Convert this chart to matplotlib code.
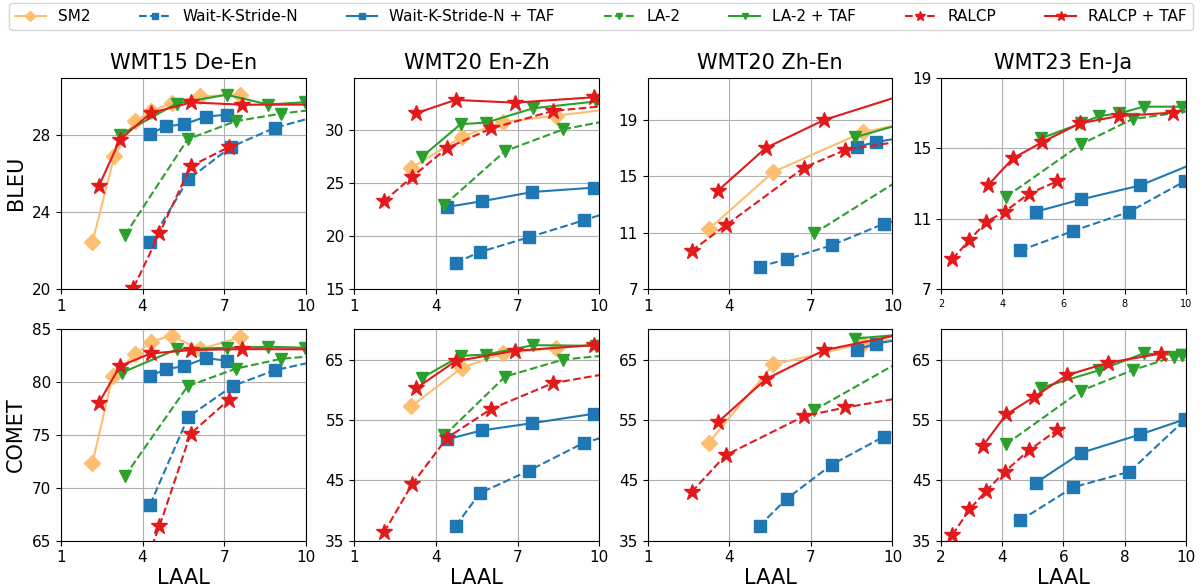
import matplotlib
matplotlib.use('Agg')
import matplotlib.pyplot as plt

methods = ['SM2', 'Wait-K-Stride-N', 'Wait-K-Stride-N + TAF', 'LA-2', 'LA-2 + TAF', 'RALCP', 'RALCP + TAF']
titles = ['WMT15 De-En', 'WMT20 En-Zh', 'WMT20 Zh-En', 'WMT23 En-Ja']

# (laal, score) per method; points past 10 / below the floor only continue the line to the frame
deen_bleu = {
    'SM2': ([2.16, 2.96, 3.72, 4.33, 5.07, 6.11, 7.58], [22.46, 26.9, 28.74, 29.25, 29.68, 30.03, 30.1]),
    'Wait-K-Stride-N': ([4.28, 5.68, 7.25, 8.88, 11.0], [22.42, 25.7, 27.39, 28.4, 29.21]),
    'Wait-K-Stride-N + TAF': ([4.28, 4.86, 5.53, 6.33, 7.09], [28.07, 28.47, 28.57, 28.97, 29.07]),
    'LA-2': ([3.35, 5.66, 7.42, 9.11, 11.0], [22.8, 27.79, 28.73, 29.13, 29.45]),
    'LA-2 + TAF': ([3.19, 5.25, 7.09, 8.62, 9.97], [28.03, 29.65, 30.11, 29.6, 29.72]),
    'RALCP': ([3.0, 3.66, 4.62, 5.77, 7.18], [18.0, 20.03, 22.89, 26.39, 27.39]),
    'RALCP + TAF': ([2.4, 3.17, 4.30, 5.80, 7.67, 11.0], [25.37, 27.77, 29.16, 29.71, 29.59, 29.6]),
}
enzh_bleu = {
    'SM2': ([3.10, 4.97, 6.46, 8.41, 11.0], [26.48, 29.42, 30.79, 31.4, 32.2]),
    'Wait-K-Stride-N': ([4.73, 5.62, 7.41, 9.44, 11.0], [17.49, 18.5, 19.89, 21.5, 22.8]),
    'Wait-K-Stride-N + TAF': ([4.40, 5.68, 7.55, 9.80], [22.76, 23.3, 24.18, 24.59]),
    'LA-2': ([4.31, 6.55, 8.69, 11.0], [22.95, 28.06, 30.11, 31.27]),
    'LA-2 + TAF': ([3.49, 4.91, 5.84, 7.58, 9.9], [27.52, 30.6, 30.74, 32.1, 32.75]),
    'RALCP': ([2.09, 3.12, 4.41, 6.04, 8.30, 11.0], [23.3, 25.6, 28.34, 30.2, 31.85, 32.5]),
    'RALCP + TAF': ([3.26, 4.72, 6.89, 9.80], [31.62, 32.89, 32.63, 33.14]),
}
zhen_bleu = {
    'SM2': ([3.24, 5.62, 8.91, 11.0], [11.24, 15.31, 18.12, 18.98]),
    'Wait-K-Stride-N': ([5.11, 6.11, 7.76, 9.67, 11.0], [8.59, 9.11, 10.1, 11.62, 12.26]),
    'Wait-K-Stride-N + TAF': ([8.71, 9.40, 11.0], [17.1, 17.43, 17.96]),
    'LA-2': ([7.12, 11.0], [10.95, 15.64]),
    'LA-2 + TAF': ([8.63, 11.0], [17.77, 19.08]),
    'RALCP': ([2.61, 3.87, 6.75, 8.27, 11.0], [9.70, 11.52, 15.62, 16.87, 17.69]),
    'RALCP + TAF': ([3.57, 5.34, 7.49, 11.0], [13.96, 17.01, 19.0, 21.14]),
}
enja_bleu = {
    'Wait-K-Stride-N': ([4.59, 6.31, 8.16, 9.96], [9.19, 10.29, 11.39, 13.11]),
    'Wait-K-Stride-N + TAF': ([5.10, 6.59, 8.51, 11.0], [11.39, 12.09, 12.88, 14.65]),
    'LA-2': ([4.13, 6.57, 8.26, 11.0], [12.24, 15.21, 16.65, 17.31]),
    'LA-2 + TAF': ([5.27, 6.57, 7.17, 7.83, 8.62, 9.87], [15.55, 16.40, 16.82, 16.97, 17.35, 17.35]),
    'RALCP': ([2.37, 2.93, 3.48, 4.08, 4.87, 5.79], [8.70, 9.78, 10.82, 11.39, 12.41, 13.11]),
    'RALCP + TAF': ([3.53, 4.35, 5.30, 6.53, 7.81, 9.57], [12.88, 14.42, 15.33, 16.40, 16.82, 17.01]),
}
deen_comet = {
    'SM2': ([2.16, 2.90, 3.74, 4.31, 5.07, 6.11, 7.58], [72.34, 80.57, 82.63, 83.83, 84.40, 83.1, 84.24]),
    'Wait-K-Stride-N': ([4.28, 5.68, 7.32, 8.88, 11.0], [68.42, 76.71, 79.65, 81.14, 82.33]),
    'Wait-K-Stride-N + TAF': ([4.28, 4.86, 5.53, 6.33, 7.09], [80.57, 81.23, 81.52, 82.28, 82.03]),
    'LA-2': ([3.35, 5.66, 7.42, 9.11, 11.0], [71.1, 79.62, 81.27, 82.22, 82.6]),
    'LA-2 + TAF': ([3.23, 5.25, 7.09, 8.62, 9.97], [80.89, 83.1, 83.26, 83.35, 83.26]),
    'RALCP': ([4.2, 4.62, 5.77, 7.18], [63.5, 66.36, 75.13, 78.35]),
    'RALCP + TAF': ([2.40, 3.17, 4.30, 5.80, 7.67, 11.0], [78.07, 81.52, 82.72, 83.04, 83.13, 83.1]),
}
enzh_comet = {
    'SM2': ([3.10, 4.97, 6.46, 8.41, 11.0], [57.28, 63.68, 66.0, 66.93, 67.86]),
    'Wait-K-Stride-N': ([4.73, 5.62, 7.41, 9.44, 11.0], [37.48, 42.89, 46.58, 51.22, 53.2]),
    'Wait-K-Stride-N + TAF': ([4.40, 5.68, 7.55, 9.80], [51.77, 53.26, 54.47, 56.02]),
    'LA-2': ([4.31, 6.55, 8.69, 11.0], [52.43, 62.19, 65.0, 66.0]),
    'LA-2 + TAF': ([3.49, 4.91, 5.84, 7.58, 9.9], [61.97, 65.61, 65.83, 67.38, 67.27]),
    'RALCP': ([2.09, 3.12, 4.41, 6.04, 8.30, 11.0], [36.38, 44.32, 52.04, 56.84, 61.09, 63.2]),
    'RALCP + TAF': ([3.26, 4.72, 6.89, 9.80], [60.21, 64.73, 66.44, 67.38]),
}
zhen_comet = {
    'SM2': ([3.24, 5.62, 8.91, 11.0], [51.22, 64.18, 67.65, 68.9]),
    'Wait-K-Stride-N': ([5.11, 6.11, 7.76, 9.67, 11.0], [37.48, 41.95, 47.58, 52.21, 55.1]),
    'Wait-K-Stride-N + TAF': ([8.71, 9.40, 11.0], [66.65, 67.65, 68.85]),
    'LA-2': ([7.12, 11.0], [56.62, 66.5]),
    'LA-2 + TAF': ([8.63, 11.0], [68.48, 69.38]),
    'RALCP': ([2.61, 3.87, 6.75, 8.27, 11.0], [43.05, 49.18, 55.63, 57.06, 59.2]),
    'RALCP + TAF': ([3.57, 5.34, 7.49, 11.0], [54.58, 61.75, 66.55, 69.8]),
}
enja_comet = {
    'Wait-K-Stride-N': ([4.59, 6.31, 8.16, 9.96], [38.36, 43.83, 46.42, 54.97]),
    'Wait-K-Stride-N + TAF': ([5.10, 6.59, 8.51, 9.96], [44.6, 49.57, 52.6, 55.08]),
    'LA-2': ([4.13, 6.57, 8.26, 9.60, 9.87], [51.0, 59.82, 63.24, 65.45, 65.72]),
    'LA-2 + TAF': ([5.27, 7.17, 8.62, 9.87], [60.32, 63.24, 66.0, 65.72]),
    'RALCP': ([2.37, 2.93, 3.48, 4.08, 4.87, 5.79], [35.94, 40.19, 43.27, 46.42, 49.95, 53.31]),
    'RALCP + TAF': ([3.36, 4.13, 5.05, 6.11, 7.45, 9.18], [50.66, 55.9, 58.83, 62.41, 64.45, 65.99]),
}

bleu_ylims = [(20, 31), (15, 35), (7, 22), (7, 19)]
bleu_yticks = [[20, 24, 28], [15, 20, 25, 30], [7, 11, 15, 19], [7, 11, 15, 19]]
comet_ylims = [(65, 85), (35, 70), (35, 70), (35, 70)]
comet_yticks = [[65, 70, 75, 80, 85], [35, 45, 55, 65], [35, 45, 55, 65], [35, 45, 55, 65]]

styles = {
    'SM2': ('#fdbf6f', '-', 'D', 8),
    'Wait-K-Stride-N': ('#1f78b4', '--', 's', 8),
    'Wait-K-Stride-N + TAF': ('#1f78b4', '-', 's', 8),
    'LA-2': ('#2ca02c', '--', 'v', 8),
    'LA-2 + TAF': ('#2ca02c', '-', 'v', 8),
    'RALCP': ('#e31a1c', '--', '*', 12),
    'RALCP + TAF': ('#e31a1c', '-', '*', 12),
}


def draw(ax, data):
    for m in methods:
        if m not in data:
            continue
        c, ls, mk, ms = styles[m]
        xs, ys = data[m]
        ax.plot(xs, ys, color=c, linestyle=ls, marker=mk, markersize=ms,
                linewidth=1.5, label=m)


def main():
    fig = plt.figure(figsize=(12.02, 5.88), dpi=100)
    lefts = [0.0507, 0.2948, 0.5389, 0.7829]
    w, h = 0.2036, 0.3595
    rows = [[deen_bleu, enzh_bleu, zhen_bleu, enja_bleu],
            [deen_comet, enzh_comet, zhen_comet, enja_comet]]
    for r in range(2):
        for i in range(4):
            ax = fig.add_axes([lefts[i], 0.5085 if r == 0 else 0.0804, w, h])
            draw(ax, rows[r][i])
            if i == 3:
                ax.set_xlim(2, 10)
                ax.set_xticks([2, 4, 6, 8, 10])
            else:
                ax.set_xlim(1, 10)
                ax.set_xticks([1, 4, 7, 10])
            if r == 0:
                ax.set_ylim(*bleu_ylims[i])
                ax.set_yticks(bleu_yticks[i])
                ax.set_title(titles[i], fontsize=15)
            else:
                ax.set_ylim(*comet_ylims[i])
                ax.set_yticks(comet_yticks[i])
                ax.set_xlabel('LAAL', fontsize=15, labelpad=2)
            ax.tick_params(labelsize=11)
            if r == 0 and i == 3:
                ax.tick_params(axis='x', labelsize=7)
            ax.grid(True)
            if i == 0:
                ax.set_ylabel('BLEU' if r == 0 else 'COMET', fontsize=15)
            if r == 0 and i == 0:
                handles, labels = ax.get_legend_handles_labels()
    fig.legend(handles, labels, loc='upper center', bbox_to_anchor=(0.5, 1.008),
               ncol=7, fontsize=11, columnspacing=3.2, handlelength=2.0,
               markerscale=0.6)
    fig.savefig('out.png', dpi=100)


if __name__ == '__main__':
    main()
